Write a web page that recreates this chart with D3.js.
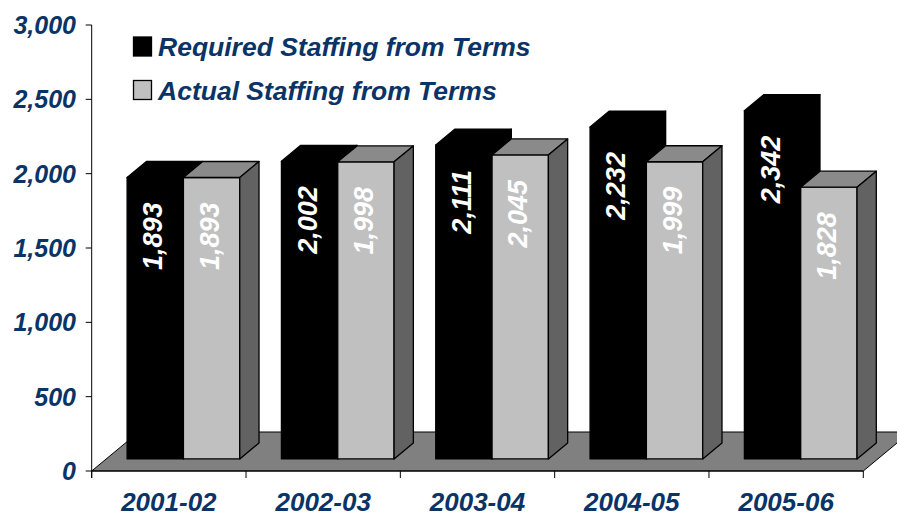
<!DOCTYPE html>
<html>
<head>
<meta charset="utf-8">
<script src="https://cdn.jsdelivr.net/npm/d3@7/dist/d3.min.js"></script>
<style>
  html, body { margin: 0; padding: 0; background: #ffffff; }
  svg { display: block; }
  text { font-family: "Liberation Sans", Arial, sans-serif; font-weight: bold; font-style: italic; }
</style>
</head>
<body>
<svg id="chart" width="897" height="518"></svg>
<script>
// School years on the category axis
const categories = ["2001-02", "2002-03", "2003-04", "2004-05", "2005-06"];
// Staffing series
const seriesNames = ["Required Staffing from Terms", "Actual Staffing from Terms"];
const requiredStaffing = [1893, 2002, 2111, 2232, 2342];
const actualStaffing = [1893, 1998, 2045, 1999, 1828];
// Value axis ticks
const yTicks = [0, 500, 1000, 1500, 2000, 2500, 3000];

const navy = "#0a3366";
const faceColors = [
  { front: "#000000", top: "#000000", side: "#000000" },
  { front: "#c0c0c0", top: "#8a8a8a", side: "#626262" }
];

const svg = d3.select("#chart");

// Oblique 3D projection: depth z in [0,1] shifts right and up
const depthX = 47, depthY = 39;
const y = d3.scaleLinear().domain([0, 3000]).range([471, 25]);
const x0 = d3.scaleBand().domain(categories).range([91.7, 863.3])
  .paddingInner(0.27).paddingOuter(0.135);
const x1 = d3.scaleBand().domain(seriesNames).range([0, x0.bandwidth()]);
const P = (px, v, z) => [px + z * depthX, y(v) - z * depthY];
const poly = pts => "M" + pts.map(p => p.join(",")).join("L") + "Z";

// Floor
const left = x0.range()[0], right = x0.range()[1];
svg.append("path")
  .attr("d", poly([P(left, 0, 0), P(right, 0, 0), P(right, 0, 1), P(left, 0, 1)]))
  .attr("fill", "#808080").attr("stroke", "#000").attr("stroke-width", 1);

// Value axis line and ticks
svg.append("line").attr("x1", left).attr("x2", left)
  .attr("y1", y(3000)).attr("y2", y(0) + 7).attr("stroke", "#000");
svg.selectAll(".ytick").data(yTicks).join("line")
  .attr("x1", left - 6).attr("x2", left)
  .attr("y1", d => y(d)).attr("y2", d => y(d)).attr("stroke", "#000");
svg.selectAll(".ylab").data(yTicks).join("text")
  .attr("x", 76).attr("y", d => y(d) + 9)
  .attr("text-anchor", "end").attr("font-size", 25).attr("fill", navy)
  .text(d => d3.format(",")(d));

// Category axis front edge and boundary ticks
svg.append("line").attr("x1", left).attr("x2", right)
  .attr("y1", y(0)).attr("y2", y(0)).attr("stroke", "#000");
const step = x0.step();
svg.selectAll(".xtick").data(d3.range(categories.length + 1)).join("line")
  .attr("x1", i => left + i * step).attr("x2", i => left + i * step)
  .attr("y1", y(0)).attr("y2", y(0) + 7).attr("stroke", "#000");
svg.selectAll(".xlab").data(categories).join("text")
  .attr("x", d => x0(d) + x0.bandwidth() / 2).attr("y", 511)
  .attr("text-anchor", "middle").attr("font-size", 26).attr("fill", navy)
  .text(d => d);

// 3D bars
const z0 = 0.31, z1 = 0.72;
const values = [requiredStaffing, actualStaffing];
const bw = x1.bandwidth();
categories.forEach((cat, ci) => {
  seriesNames.forEach((s, si) => {
    const v = values[si][ci];
    const bx = x0(cat) + x1(s);
    const c = faceColors[si];
    const g = svg.append("g").attr("stroke", "#000").attr("stroke-width", 1.3)
      .attr("stroke-linejoin", "round");
    // front
    g.append("path").attr("fill", c.front)
      .attr("d", poly([P(bx, 0, z0), P(bx + bw, 0, z0), P(bx + bw, v, z0), P(bx, v, z0)]));
    // top
    g.append("path").attr("fill", c.top)
      .attr("d", poly([P(bx, v, z0), P(bx + bw, v, z0), P(bx + bw, v, z1), P(bx, v, z1)]));
    // side
    g.append("path").attr("fill", c.side)
      .attr("d", poly([P(bx + bw, 0, z0), P(bx + bw, 0, z1), P(bx + bw, v, z1), P(bx + bw, v, z0)]));
    // value label, rotated, reading upward
    const [fx, fy] = P(bx + bw / 2, v, z0);
    svg.append("text")
      .attr("transform", `translate(${fx + 7},${fy + 25}) rotate(-90)`)
      .attr("text-anchor", "end").attr("font-size", 27).attr("fill", "#ffffff")
      .text(d3.format(",")(v));
  });
});

// Legend
const legend = svg.append("g");
seriesNames.forEach((s, i) => {
  legend.append("rect").attr("x", 133.5).attr("y", 37 + i * 43.5)
    .attr("width", 18).attr("height", 19)
    .attr("fill", faceColors[i].front).attr("stroke", "#000").attr("stroke-width", 1.3);
  legend.append("text").attr("x", 158).attr("y", 56 + i * 43.5)
    .attr("font-size", 26.5).attr("fill", navy).text(s);
});
</script>
</body>
</html>
